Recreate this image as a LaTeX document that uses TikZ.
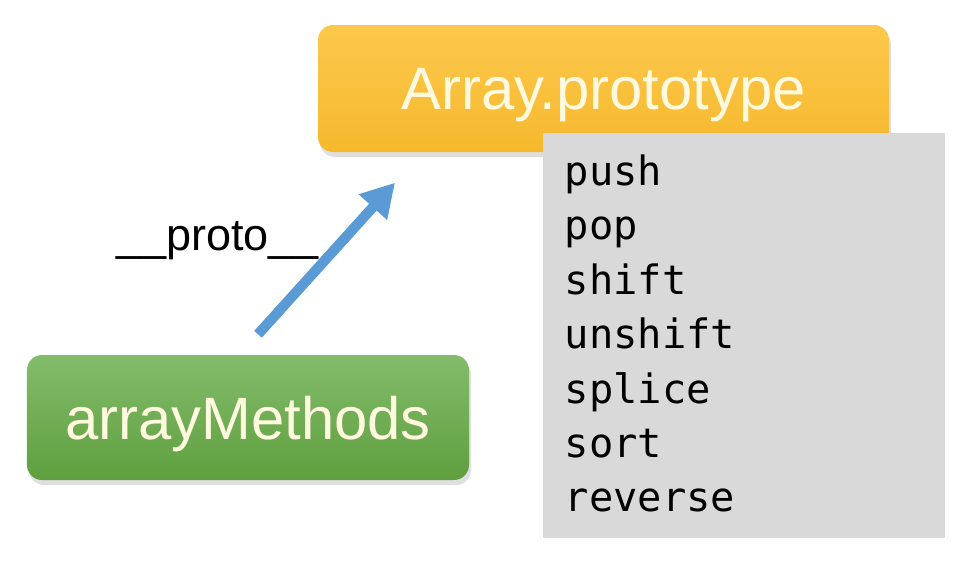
\documentclass[tikz,border=0pt]{standalone}
\usepackage{fontspec}
\setmainfont{Liberation Sans}
\setmonofont{DejaVu Sans Mono}
\usetikzlibrary{arrows.meta,positioning,shadows}

\definecolor{protoTop}{HTML}{FCC84C}
\definecolor{protoBot}{HTML}{F6B92E}
\definecolor{arrTop}{HTML}{83BC6B}
\definecolor{arrBot}{HTML}{5F9F3F}
\definecolor{listGray}{HTML}{D9D9D9}
\definecolor{arrowBlue}{HTML}{5B9BD5}
\definecolor{cream}{HTML}{FFF9E0}

\begin{document}
\begin{tikzpicture}[>=latex,
	obj/.style={rounded corners=0.15cm,inner sep=0pt,text=cream,text depth=0pt,
		font=\fontsize{17}{20}\selectfont,
		drop shadow={opacity=0.25,shadow xshift=0.02,shadow yshift=-0.05}},
	item/.style={anchor=base west,inner sep=0pt,font=\ttfamily\fontsize{11.5}{14}\selectfont}]
\useasboundingbox (0,0) rectangle (9.72,5.68);
%
\node[obj,top color=protoTop,bottom color=protoBot,
	minimum width=5.71cm,minimum height=1.27cm] (proto) at (6.035,4.795) {Array.prototype};
%
\node[fill=listGray,inner sep=0pt,minimum width=4.02cm,minimum height=4.05cm] (methods) at (7.44,2.325) {};
\foreach \m [count=\i] in {push,pop,shift,unshift,splice,sort,reverse}{
	\node[item] (m\i) at (5.64,3.83-0.545*\i+0.545) {\m};
}
%
\node[obj,top color=arrTop,bottom color=arrBot,
	minimum width=4.42cm,minimum height=1.25cm] (arr) at (2.48,1.505) {arrayMethods};
%
\coordinate[above right=0.2 and 0.1 of arr.north] (tail);
\coordinate[below left=0.3 and 2.085 of proto.south] (tip);
\draw[color=arrowBlue,line width=2.9pt,-{Triangle[length=0.33cm,width=0.36cm]}] (tail) -- (tip);
\node[font=\fontsize{12.8}{15}\selectfont,anchor=base] (label) at (2.175,3.18) {\_\_proto\_\_};
\end{tikzpicture}
\end{document}
